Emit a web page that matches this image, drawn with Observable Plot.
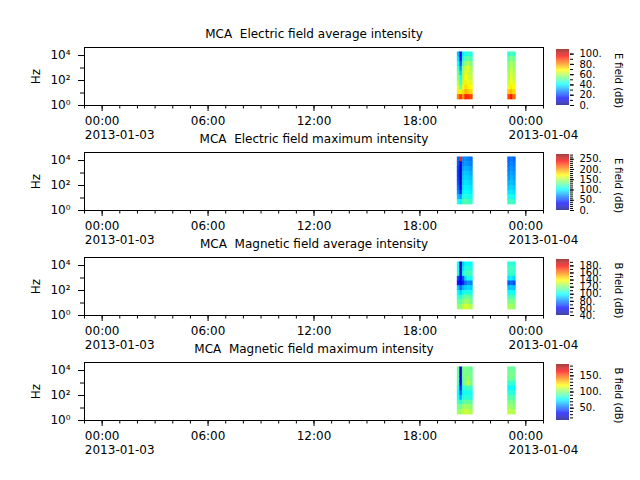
<!DOCTYPE html>
<html>
<head>
<meta charset="utf-8">
<script src="https://cdn.jsdelivr.net/npm/d3@7"></script>
<script src="https://cdn.jsdelivr.net/npm/@observablehq/plot@0.6"></script>
<style>
  html, body { margin: 0; padding: 0; background: white; }
  #chart { position: relative; width: 640px; height: 480px; background: white; overflow: hidden; }
  #chart svg { position: absolute; }
  svg text { white-space: pre; }
</style>
</head>
<body>
<div id="chart"></div>
<script>
// ---------- data ----------
const titles = [
  "MCA  Electric field average intensity",
  "MCA  Electric field maximum intensity",
  "MCA  Magnetic field average intensity",
  "MCA  Magnetic field maximum intensity"
];
const cbarLabels = ["E field (dB)", "E field (dB)", "B field (dB)", "B field (dB)"];
const cbarDomains = [[0, 109], [0, 273], [40, 198], [12, 185]];
const cbarLabelTicks = [
  [0, 20, 40, 60, 80, 100],
  [0, 50, 100, 150, 200, 250],
  [40, 60, 80, 100, 120, 140, 160, 180],
  [50, 100, 150]
];
const cbarMinorTicks = [
  [0, 10, 20, 30, 40, 50, 60, 70, 80, 90, 100],
  [0, 10, 20, 30, 40, 50, 60, 70, 80, 90, 100, 110, 120, 130, 140, 150, 160, 170, 180, 190, 200, 210, 220, 230, 240, 250, 260, 270],
  [40, 50, 60, 70, 80, 90, 100, 110, 120, 130, 140, 150, 160, 170, 180, 190],
  [20, 30, 40, 50, 60, 70, 80, 90, 100, 110, 120, 130, 140, 150, 160, 170, 180]
];
const timeTickLabels = ["2013-01-03T00:00Z", "2013-01-03T06:00Z", "2013-01-03T12:00Z", "2013-01-03T18:00Z", "2013-01-04T00:00Z"];
const dateTickLabels = ["2013-01-03T00:00Z", "2013-01-04T00:00Z"];
const yLabelTicks = [1, 100, 10000];
const yMinorTicks = [10, 1000];
const yTickText = {1: "10\u2070", 100: "10\u00b2", 10000: "10\u2074"};
// jet colormap stops
const jetColors = ["#000080", "#0000ff", "#0080ff", "#00ffff", "#80ff80", "#ffff00", "#ff8000", "#ff0000", "#800000"];

// frequency bin edges (Hz), bottom -> top
const freqEdges = [3, 7.2, 17, 40, 95, 230, 540, 1300, 3100, 7500, 18000];
// time column edges: two passes
const columns = [
  ["2013-01-03T20:08Z", "2013-01-03T20:17Z"],
  ["2013-01-03T20:17Z", "2013-01-03T20:25Z"],
  ["2013-01-03T20:25Z", "2013-01-03T20:34Z"],
  ["2013-01-03T20:34Z", "2013-01-03T20:42Z"],
  ["2013-01-03T20:42Z", "2013-01-03T20:51Z"],
  ["2013-01-03T20:51Z", "2013-01-03T21:00Z"],
  ["2013-01-03T23:00Z", "2013-01-03T23:09Z"],
  ["2013-01-03T23:09Z", "2013-01-03T23:17Z"],
  ["2013-01-03T23:17Z", "2013-01-03T23:26Z"]
];

// intensities (dB): rows top (high freq) -> bottom (low freq), 9 columns each
const eAvg = [
  [34, 12, 40, 44, 46, 44,   44, 50, 46],
  [38, 15, 44, 50, 52, 48,   50, 56, 52],
  [42, 22, 50, 56, 60, 54,   54, 60, 56],
  [48, 30, 56, 62, 66, 58,   56, 62, 58],
  [52, 36, 58, 66, 62, 60,   58, 64, 60],
  [56, 42, 60, 68, 64, 62,   60, 66, 62],
  [60, 46, 62, 70, 66, 64,   62, 68, 64],
  [64, 52, 66, 72, 70, 68,   66, 70, 68],
  [70, 64, 72, 76, 74, 72,   74, 76, 72],
  [82, 90, 80, 92, 90, 88,   88, 94, 84]
];
const eMax = [
  [60, 230, 70, 72, 66, 64,    60, 66, 62],
  [55, 20, 70, 75, 72, 68,     64, 70, 66],
  [50, 18, 78, 82, 80, 74,     68, 74, 70],
  [48, 18, 84, 88, 86, 80,     72, 78, 74],
  [50, 20, 88, 92, 90, 86,     76, 82, 78],
  [55, 25, 92, 96, 94, 90,     82, 86, 82],
  [62, 30, 96, 100, 98, 94,    88, 92, 88],
  [70, 45, 100, 104, 102, 98,  96, 98, 94],
  [85, 75, 108, 112, 110, 106, 106, 108, 104],
  [110, 100, 118, 124, 120, 116, 118, 122, 116]
];
const bAvg = [
  [100, 48, 92, 100, 100, 100,  104, 106, 104],
  [102, 50, 96, 104, 106, 104,  108, 110, 108],
  [104, 55, 100, 110, 112, 108, 106, 108, 106],
  [70, 58, 72, 96, 104, 100,    96, 98, 94],
  [62, 55, 64, 78, 82, 80,      74, 76, 72],
  [90, 75, 88, 92, 94, 92,      90, 92, 90],
  [100, 92, 100, 104, 104, 102, 100, 102, 100],
  [108, 104, 112, 116, 116, 112, 110, 112, 110],
  [116, 114, 120, 124, 122, 118, 118, 120, 118],
  [122, 120, 128, 132, 130, 126, 124, 126, 122]
];
const bMax = [
  [92, 22, 96, 98, 96, 94,     94, 96, 94],
  [94, 24, 96, 98, 98, 96,     96, 98, 96],
  [92, 26, 94, 98, 104, 96,    94, 96, 94],
  [90, 30, 92, 100, 112, 98,   84, 86, 84],
  [84, 40, 84, 86, 88, 86,     76, 78, 76],
  [78, 50, 78, 80, 80, 80,     82, 84, 82],
  [80, 62, 82, 84, 84, 82,     90, 92, 90],
  [90, 82, 92, 94, 94, 92,     96, 98, 96],
  [98, 96, 102, 104, 104, 100, 102, 104, 100],
  [104, 102, 108, 112, 110, 106, 108, 110, 106]
];
const panelValues = [eAvg, eMax, bAvg, bMax];

// ---------- helpers ----------
const nRows = freqEdges.length - 1;
function buildCells(values) {
  const cells = [];
  values.forEach((row, r) => {
    const k = nRows - 1 - r;
    row.forEach((v, c) => {
      cells.push({
        t1: new Date(columns[c][0]), t2: new Date(columns[c][1]),
        f1: freqEdges[k], f2: freqEdges[k + 1], v
      });
    });
  });
  return cells;
}
const xDomain = [new Date("2013-01-02T23:00Z"), new Date("2013-01-04T01:00Z")];
const hourTicks = d3.utcHour.range(xDomain[0], new Date(+xDomain[1] + 1));
const majorDates = timeTickLabels.map(s => new Date(s));
const dateDates = dateTickLabels.map(s => new Date(s));
const fmtTime = d3.utcFormat("%H:%M");
const fmtDate = d3.utcFormat("%Y-%m-%d");

const chart = document.getElementById("chart");
const font = "DejaVu Sans";

titles.forEach((title, i) => {
  const top = 25 + 105 * i;
  const [cmin, cmax] = cbarDomains[i];
  const colorDomain = jetColors.map((_, j) => cmin + (cmax - cmin) * j / (jetColors.length - 1));
  const colorOpts = {type: "linear", domain: colorDomain, range: jetColors, interpolate: "rgb", clamp: true};

  const main = Plot.plot({
    width: 640, height: 120,
    marginLeft: 84, marginRight: 97, marginTop: 22, marginBottom: 40,
    style: {background: "transparent", fontFamily: font, fontSize: "12px", overflow: "visible", color: "black"},
    x: {type: "utc", domain: xDomain},
    y: {type: "log", domain: [1, 44000]},
    color: colorOpts,
    marks: [
      Plot.rect(buildCells(panelValues[i]), {x1: "t1", x2: "t2", y1: "f1", y2: "f2", fill: "v", stroke: "v", strokeWidth: 0.5}),
      Plot.frame({stroke: "black", strokeWidth: 1}),
      Plot.axisX({ticks: hourTicks, tickSize: 3.5, tickFormat: () => "", label: null}),
      Plot.axisX({ticks: majorDates, tickSize: 6, tickFormat: () => "", label: null}),
      Plot.text(majorDates, {x: d => d, text: d => fmtTime(d), frameAnchor: "bottom", dy: 19, fontSize: 12}),
      Plot.text(dateDates, {x: d => d, text: d => fmtDate(d), frameAnchor: "bottom", textAnchor: "start", dx: -17.3, dy: 33, fontSize: 12}),
      Plot.axisY({ticks: yMinorTicks, tickSize: 4, tickFormat: () => "", label: null}),
      Plot.axisY({ticks: yLabelTicks, tickSize: 6, tickPadding: 8, tickFormat: d => yTickText[d], label: null, fontSize: 12}),
      Plot.text([title], {frameAnchor: "top", lineAnchor: "middle", dy: -13, fontSize: 12}),
      Plot.text(["Hz"], {frameAnchor: "left", textAnchor: "middle", lineAnchor: "middle", dx: -48, rotate: -90, fontSize: 12})
    ]
  });
  main.style.left = "0px";
  main.style.top = top + "px";
  chart.appendChild(main);

  const step = (cmax - cmin) / 120;
  const steps = d3.range(cmin, cmax - step / 2, step);
  const cbar = Plot.plot({
    width: 100, height: 120,
    marginLeft: 16, marginRight: 71, marginTop: 24, marginBottom: 40,
    style: {background: "transparent", fontFamily: font, fontSize: "10px", overflow: "visible", color: "black"},
    x: {domain: [0, 1], axis: null},
    y: {domain: [cmin, cmax]},
    color: colorOpts,
    marks: [
      Plot.rect(steps, {x1: 0, x2: 1, y1: d => d, y2: d => d + step * 1.02, fill: d => d + step / 2}),
      Plot.axisY({anchor: "right", ticks: cbarMinorTicks[i], tickSize: 3, tickFormat: () => "", label: null}),
      Plot.axisY({anchor: "right", ticks: cbarLabelTicks[i], tickSize: 4, tickPadding: 6, tickFormat: d => d + ".", label: null, fontSize: 10}),
      Plot.text([cbarLabels[i]], {frameAnchor: "right", textAnchor: "middle", lineAnchor: "middle", dx: 49, dy: 3, rotate: 90, fontSize: 10})
    ]
  });
  cbar.style.left = "540px";
  cbar.style.top = top + "px";
  chart.appendChild(cbar);
});
</script>
</body>
</html>
